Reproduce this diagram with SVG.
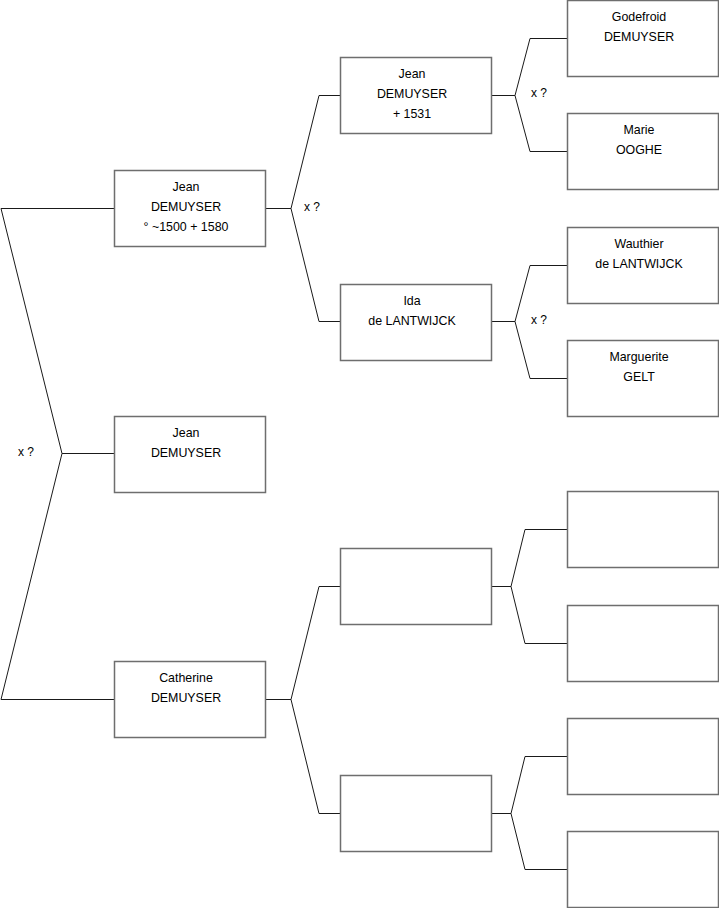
<svg xmlns="http://www.w3.org/2000/svg" width="719" height="908" viewBox="0 0 719 908">
<style>
.box{fill:#ffffff;stroke:#6e6e6e;stroke-width:1.5}
.t{font-family:"Liberation Sans",Arial,sans-serif;font-size:12.4px;fill:#000;text-anchor:middle}
.l{font-family:"Liberation Sans",Arial,sans-serif;font-size:12px;fill:#000}
.c{fill:none;stroke:#1a1a1a;stroke-width:1}
</style>
<rect width="719" height="908" fill="#ffffff"/>
<g id="connectors">
<polyline class="c" points="114,208.5 1,208.5 62,453.5 1,699.5 114,699.5"/>
<line class="c" x1="62" y1="453.5" x2="114" y2="453.5"/>
<polyline class="c" points="340,95.5 319,95.5 291,208.5 319,321.5 340,321.5"/>
<line class="c" x1="265" y1="208.5" x2="291" y2="208.5"/>
<polyline class="c" points="567,38.5 530,38.5 515,95.5 530,151.5 567,151.5"/>
<line class="c" x1="491" y1="95.5" x2="515" y2="95.5"/>
<polyline class="c" points="567,265.5 530,265.5 515,321.5 530,378.5 567,378.5"/>
<line class="c" x1="491" y1="321.5" x2="515" y2="321.5"/>
<polyline class="c" points="340,586.5 319,586.5 291,699.5 319,813.5 340,813.5"/>
<line class="c" x1="265" y1="699.5" x2="291" y2="699.5"/>
<polyline class="c" points="567,529.5 525,529.5 511,586.5 525,643.5 567,643.5"/>
<line class="c" x1="491" y1="586.5" x2="511" y2="586.5"/>
<polyline class="c" points="567,756.5 525,756.5 511,813.5 525,869.5 567,869.5"/>
<line class="c" x1="491" y1="813.5" x2="511" y2="813.5"/>
<text class="l" x="18" y="456">x ?</text>
<text class="l" x="304" y="211">x ?</text>
<text class="l" x="531" y="97">x ?</text>
<text class="l" x="531" y="324">x ?</text>
</g>
<g id="n1"><rect class="box" x="114.5" y="170.5" width="151" height="76"/><text class="t" x="186" y="190.5">Jean</text><text class="t" x="186" y="210.5">DEMUYSER</text><text class="t" x="186" y="230.5">° ~1500 + 1580</text></g>
<g id="n2"><rect class="box" x="114.5" y="416.5" width="151" height="76"/><text class="t" x="186" y="436.5">Jean</text><text class="t" x="186" y="456.5">DEMUYSER</text></g>
<g id="n3"><rect class="box" x="114.5" y="661.5" width="151" height="76"/><text class="t" x="186" y="681.5">Catherine</text><text class="t" x="186" y="701.5">DEMUYSER</text></g>
<g id="n4"><rect class="box" x="340.5" y="57.5" width="151" height="76"/><text class="t" x="412" y="77.5">Jean</text><text class="t" x="412" y="97.5">DEMUYSER</text><text class="t" x="412" y="117.5">+ 1531</text></g>
<g id="n5"><rect class="box" x="340.5" y="284.5" width="151" height="76"/><text class="t" x="412" y="304.5">Ida</text><text class="t" x="412" y="324.5">de LANTWIJCK</text></g>
<g id="n6"><rect class="box" x="340.5" y="548.5" width="151" height="76"/></g>
<g id="n7"><rect class="box" x="340.5" y="775.5" width="151" height="76"/></g>
<g id="n8"><rect class="box" x="567.5" y="0.5" width="151" height="76"/><text class="t" x="639" y="20.5">Godefroid</text><text class="t" x="639" y="40.5">DEMUYSER</text></g>
<g id="n9"><rect class="box" x="567.5" y="113.5" width="151" height="76"/><text class="t" x="639" y="133.5">Marie</text><text class="t" x="639" y="153.5">OOGHE</text></g>
<g id="n10"><rect class="box" x="567.5" y="227.5" width="151" height="76"/><text class="t" x="639" y="247.5">Wauthier</text><text class="t" x="639" y="267.5">de LANTWIJCK</text></g>
<g id="n11"><rect class="box" x="567.5" y="340.5" width="151" height="76"/><text class="t" x="639" y="360.5">Marguerite</text><text class="t" x="639" y="380.5">GELT</text></g>
<g id="n12"><rect class="box" x="567.5" y="491.5" width="151" height="76"/></g>
<g id="n13"><rect class="box" x="567.5" y="605.5" width="151" height="76"/></g>
<g id="n14"><rect class="box" x="567.5" y="718.5" width="151" height="76"/></g>
<g id="n15"><rect class="box" x="567.5" y="831.5" width="151" height="76"/></g>
</svg>
